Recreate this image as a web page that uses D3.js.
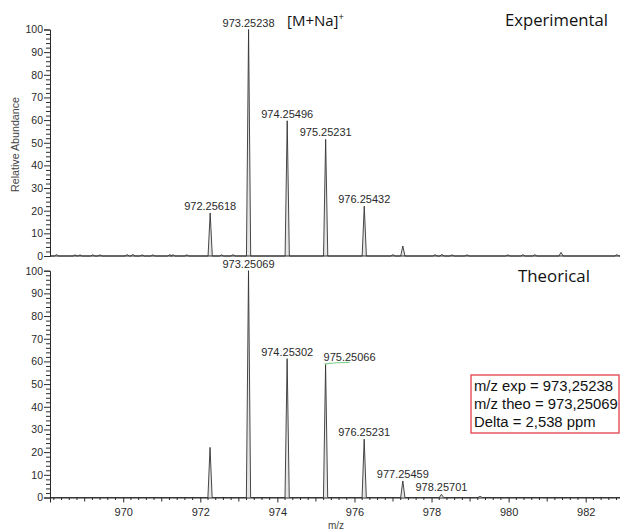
<!DOCTYPE html>
<html>
<head>
<meta charset="utf-8">
<script src="https://cdn.jsdelivr.net/npm/d3@7"></script>
<style>
  html, body { margin: 0; padding: 0; background: #fff; }
  svg { display: block; }
</style>
</head>
<body>
<svg id="chart" width="620" height="531"></svg>
<script>
// ---------- data ----------
const mzTickLabels = [970, 972, 974, 976, 978, 980, 982];
const yTickLabels = [0, 10, 20, 30, 40, 50, 60, 70, 80, 90, 100];

// Experimental spectrum (top)
const expMz = [972.25618, 973.25238, 974.25496, 975.25231, 976.25432, 977.255, 981.36];
const expIntensity = [19, 100, 59.7, 51.5, 22, 4.4, 1.6];
const expLabels = ["972.25618", "973.25238", "974.25496", "975.25231", "976.25432", "", ""];
// small baseline noise (experimental)
const noiseMz = [968.27, 968.75, 968.88, 969.21, 969.40, 970.10, 970.25, 970.49, 970.77, 971.21, 971.29, 971.65,
                 972.55, 972.85, 977.00, 978.09, 978.27, 978.53, 978.92, 979.98, 980.37, 980.68, 982.81];
const noiseIntensity = [0.6, 0.5, 0.5, 0.5, 0.5, 0.6, 0.7, 0.5, 0.5, 0.6, 0.6, 0.5,
                        0.5, 0.6, 0.6, 0.6, 0.7, 0.5, 0.5, 0.5, 0.6, 0.6, 0.6];

// Theoretical spectrum (bottom)
const theoMz = [972.2525, 973.25069, 974.25302, 975.25066, 976.25231, 977.25459, 978.25701, 979.26];
const theoIntensity = [22.1, 100, 61.2, 58.7, 25.7, 7.3, 1.4, 0.5];
const theoLabels = ["", "973.25069", "974.25302", "975.25066", "976.25231", "977.25459", "978.25701", ""];

const boxLines = ["m/z exp = 973,25238", "m/z theo = 973,25069", "Delta = 2,538 ppm"];

// ---------- layout ----------
const svg = d3.select("#chart");
const x = d3.scaleLinear().domain([968.1, 982.89]).range([50, 620]);
const yTop = d3.scaleLinear().domain([0, 100]).range([256, 29.5]);
const yBot = d3.scaleLinear().domain([0, 100]).range([497.5, 270.7]);
const ink = "#2a2a2a";
const numFont = "'Liberation Sans', Arial, Helvetica, sans-serif";
const titleFont = "'Open Sans', Lato, sans-serif";
const halfW = 0.055;

// fit font size of a text element so that it spans a target width
function fitWidth(sel, target) {
  const fs = parseFloat(sel.attr("font-size"));
  const w = sel.node().getComputedTextLength();
  if (w > 0) sel.attr("font-size", (fs * target / w).toFixed(2));
  return sel;
}

function spectrumPoints(mzs, ints) {
  const pk = mzs.map((m, i) => ({ m, h: ints[i] })).sort((a, b) => a.m - b.m);
  const pts = [[x.domain()[0], 0]];
  pk.forEach(p => {
    pts.push([p.m - halfW, 0]);
    pts.push([p.m, p.h]);
    pts.push([p.m + halfW, 0]);
  });
  pts.push([x.domain()[1], 0]);
  return pts;
}

function drawYAxis(y) {
  const g = svg.append("g").attr("transform", "translate(50,0)");
  const ax = d3.axisLeft(y).tickValues(yTickLabels).tickSize(6).tickPadding(1);
  g.call(ax);
  g.select(".domain").attr("stroke", ink).attr("stroke-width", 1);
  g.selectAll(".tick line").attr("stroke", ink);
  g.selectAll(".tick text").attr("font-family", numFont).attr("font-size", 10.5).attr("fill", ink);
  const minor = d3.range(0, 101, 2).filter(v => v % 10 !== 0);
  g.selectAll(".minor").data(minor).enter().append("line")
    .attr("x1", -4).attr("x2", 0)
    .attr("y1", d => y(d) + 0.5).attr("y2", d => y(d) + 0.5)
    .attr("stroke", ink).attr("stroke-width", 1);
}

// spectra
const line = (y) => d3.line().x(d => x(d[0])).y(d => y(d[1]));

const expAll = spectrumPoints(expMz.concat(noiseMz), expIntensity.concat(noiseIntensity));
svg.append("path").attr("d", line(yTop)(expAll))
  .attr("fill", "#e6e6e6").attr("stroke", "#333").attr("stroke-width", 0.9)
  .attr("stroke-linejoin", "round");

const theoAll = spectrumPoints(theoMz, theoIntensity);
svg.append("path").attr("d", line(yBot)(theoAll))
  .attr("fill", "#e6e6e6").attr("stroke", "#333").attr("stroke-width", 0.9)
  .attr("stroke-linejoin", "round");

// axes
drawYAxis(yTop);
drawYAxis(yBot);

// top panel baseline
svg.append("line").attr("x1", 50).attr("x2", 620).attr("y1", yTop(0)).attr("y2", yTop(0))
  .attr("stroke", ink).attr("stroke-width", 1);

// bottom x axis
const gx = svg.append("g").attr("transform", `translate(0,${yBot(0)})`);
gx.call(d3.axisBottom(x).tickValues(mzTickLabels).tickFormat(d3.format("d")).tickSize(5).tickPadding(6));
gx.select(".domain").attr("stroke", ink);
gx.selectAll(".tick line").attr("stroke", ink);
gx.selectAll(".tick text").attr("font-family", numFont).attr("font-size", 11).attr("fill", ink);
const minorX = d3.range(968.2, 982.9, 0.2).map(v => Math.round(v * 10) / 10)
  .filter(v => Math.abs(v / 2 - Math.round(v / 2)) > 1e-6);
gx.selectAll(".minx").data(minorX).enter().append("line")
  .attr("x1", d => x(d)).attr("x2", d => x(d))
  .attr("y1", 0).attr("y2", d => Math.abs(d - Math.round(d)) < 1e-6 ? 4 : 2.5)
  .attr("stroke", ink).attr("stroke-width", 1);

// peak labels
function peakLabels(mzs, ints, labels, y, offsets) {
  mzs.forEach((m, i) => {
    if (!labels[i]) return;
    svg.append("text")
      .attr("x", x(m) + (offsets[labels[i]] || 0))
      .attr("y", y(ints[i]) - 3)
      .attr("text-anchor", "middle")
      .attr("font-family", numFont).attr("font-size", 11).attr("fill", ink)
      .text(labels[i]);
  });
}
peakLabels(expMz, expIntensity, expLabels, yTop, {});
peakLabels(theoMz, theoIntensity, theoLabels, yBot, { "975.25066": 24 });

// green mark under 975.25066
const iG = theoLabels.indexOf("975.25066");
svg.append("path")
  .attr("d", `M${x(theoMz[iG]) - 1},${yBot(theoIntensity[iG]) - 0.5} Q${x(theoMz[iG]) + 12},${yBot(theoIntensity[iG]) - 2} ${x(theoMz[iG]) + 24},${yBot(theoIntensity[iG]) - 2}`)
  .attr("fill", "none").attr("stroke", "#7fd08a").attr("stroke-width", 1.2);

// titles
const mna = svg.append("text").attr("x", 287).attr("y", 26)
  .attr("font-family", titleFont).attr("font-size", 15).attr("fill", "#111");
mna.append("tspan").text("[M+Na]");
mna.append("tspan").attr("dy", -6).attr("font-size", 9.5).text("+");

fitWidth(svg.append("text").attr("x", 505).attr("y", 26)
  .attr("font-family", titleFont).attr("font-size", 16).attr("fill", "#111").text("Experimental"), 103);
fitWidth(svg.append("text").attr("x", 518).attr("y", 282)
  .attr("font-family", titleFont).attr("font-size", 16).attr("fill", "#111").text("Theorical"), 72);

// axis titles
fitWidth(svg.append("text")
  .attr("transform", "translate(19,144.5) rotate(-90)")
  .attr("text-anchor", "middle")
  .attr("font-family", numFont).attr("font-size", 10).attr("fill", "#444")
  .text("Relative Abundance"), 95);
svg.append("text").attr("x", 336).attr("y", 529).attr("text-anchor", "middle")
  .attr("font-family", numFont).attr("font-size", 10).attr("fill", "#444").text("m/z");

// red box
svg.append("rect").attr("x", 471).attr("y", 375).attr("width", 148).attr("height", 58)
  .attr("fill", "#fff").attr("stroke", "#e0404a").attr("stroke-width", 1.3);
const boxTexts = boxLines.map((t, i) =>
  svg.append("text").attr("x", 474).attr("y", 391 + i * 17.8)
    .attr("font-family", numFont).attr("font-size", 14).attr("fill", "#111").text(t));
// size all three lines together so the first spans ~139px
const w0 = boxTexts[0].node().getComputedTextLength();
const fsBox = w0 > 0 ? 14 * 139 / w0 : 14;
boxTexts.forEach(s => s.attr("font-size", fsBox.toFixed(2)));
</script>
</body>
</html>
